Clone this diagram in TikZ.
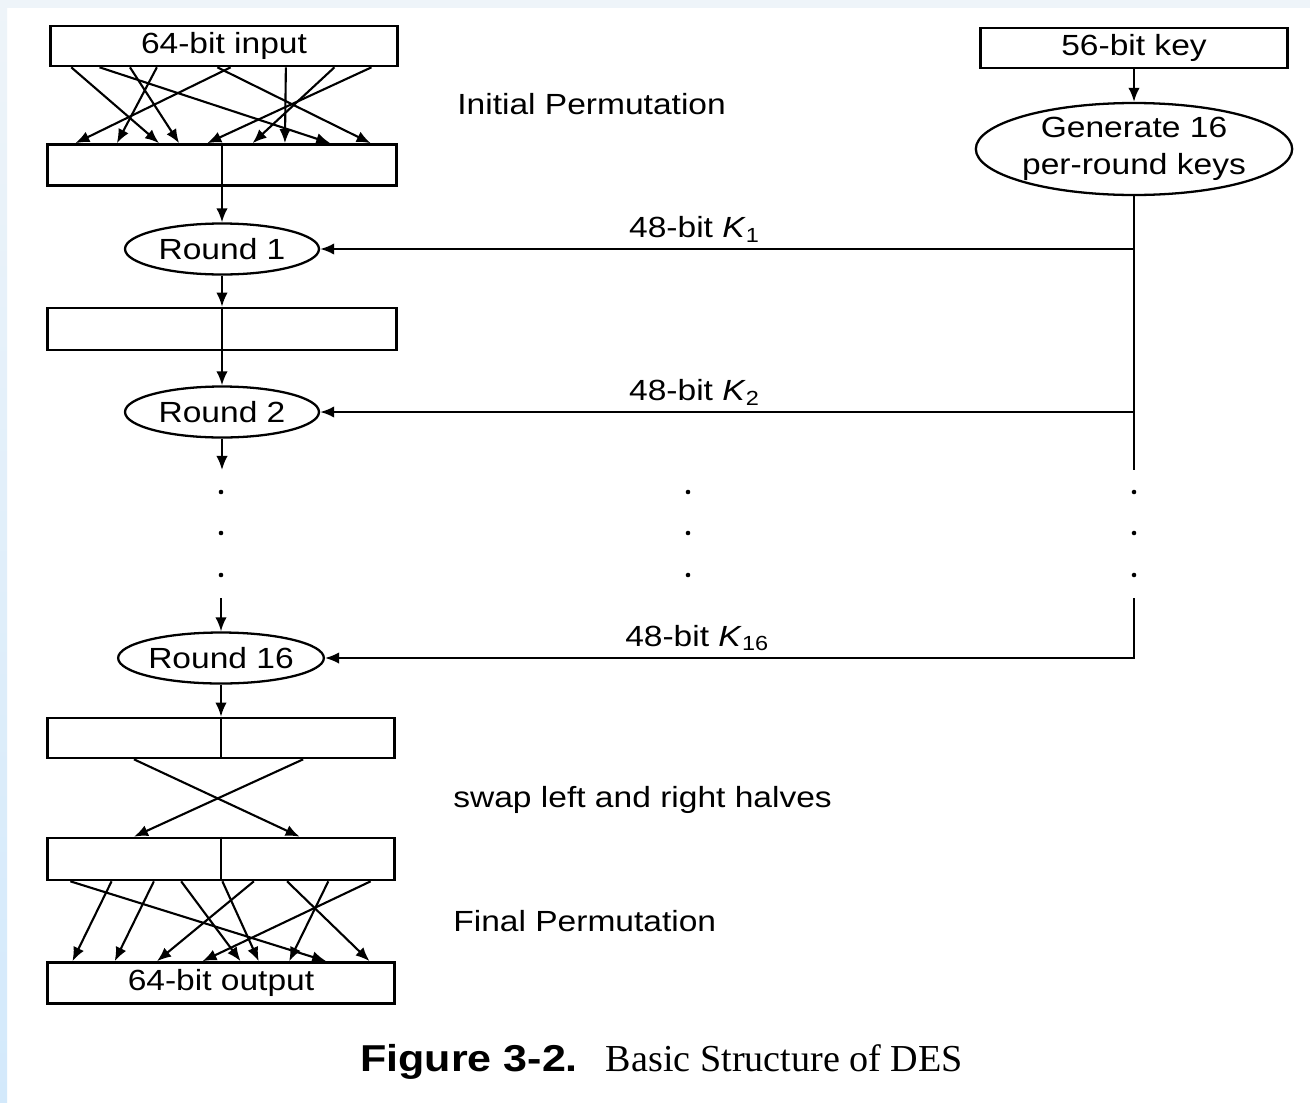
\documentclass[tikz,border=0pt]{standalone}
\usepackage{fontspec}
\setmainfont{Liberation Sans}[FakeStretch=1.15]
\newfontfamily\capserif{Liberation Serif}
\usetikzlibrary{arrows.meta,shapes.geometric,calc}
\definecolor{topstrip}{HTML}{EEF4F9}
\definecolor{sidestrip}{HTML}{D3E9FB}
\tikzset{
  blk/.style   = {rectangle, draw, line width=1.5pt, minimum width=6.94cm,
                  minimum height=0.8cm, inner sep=0pt},
  rnd/.style   = {ellipse, draw, line width=1.3pt, minimum width=3.88cm,
                  minimum height=1.02cm, inner sep=0pt},
  flow/.style  = {-{Latex[length=8pt,width=6.5pt]}, line width=1.2pt},
  wire/.style  = {line width=1.2pt},
  dotm/.style  = {circle, fill, inner sep=0pt, minimum size=2.6pt},
  note/.style  = {anchor=west, inner sep=0pt},
}

\begin{document}
\begin{tikzpicture}[x=0.02cm, y=-0.02cm, font=\fontsize{16.6}{21}\selectfont]
    % frame
    \useasboundingbox (0,0) rectangle (1310,1102);
    \fill[white] (0,0) rectangle (1310,1102);
    \fill[topstrip] (0,0) rectangle (1310,8);
    \shade[top color=topstrip, bottom color=sidestrip] (0,0) rectangle (7,1102);

    % data path
    \node[blk] (inbox) at (224,46) {64-bit input};
    \node[blk, minimum width=6.98cm, minimum height=0.82cm] (ipbox) at (222,165) {};
    \node[rnd] (r1) at (222,249) {Round 1};
    \node[blk, minimum width=6.98cm, minimum height=0.84cm] (mbox) at (222,329) {};
    \node[rnd] (r2) at (222,412) {Round 2};
    \node[rnd] (r16) at (221,658) {Round 16};
    \node[blk] (abox) at (221,738) {};
    \node[blk, minimum height=0.84cm] (sbox) at (221,859) {};
    \node[blk, minimum height=0.82cm] (obox) at (221,983) {64-bit output};

    % key path
    \node[blk, minimum width=6.14cm] (keybox) at (1134,48) {56-bit key};
    \node[rnd, minimum width=6.32cm, minimum height=1.84cm, align=center]
         (gen) at (1134,149) {Generate 16\\per-round keys};
    \coordinate (k1) at (1134,249);
    \coordinate (k2) at (1134,412);
    \coordinate (kt) at (1134,470);
    \coordinate (kb) at (1134,598);
    \coordinate (k16) at (1134,658);
    \coordinate (lt) at (222,470);
    \coordinate (lb) at (221,598);

    % initial permutation
    \foreach \s/\t in {0.063/0.321, 0.144/0.808, 0.231/0.378, 0.308/0.201,
                       0.519/0.083, 0.481/0.923, 0.677/0.679, 0.816/0.587,
                       0.922/0.458}
      \draw[flow] ($(inbox.south west)!\s!(inbox.south east)$)
                  -- ($(ipbox.north west)!\t!(ipbox.north east)$);
    \node[note] (iplbl) at (457,104) {Initial Permutation};

    % rounds
    \draw[flow] (ipbox.north) -- (r1);
    \draw[flow] (r1) -- (mbox.north);
    \draw[flow] (mbox.north) -- (r2);
    \draw[flow] (r2) -- (lt);
    \draw[flow] (lb) -- (r16);
    \draw[flow] (r16) -- (abox.north);
    \draw[wire] (abox.north) -- (abox.south);
    \draw[wire] (sbox.north) -- (sbox.south);

    % keys
    \draw[flow] (keybox) -- (gen);
    \draw[wire] (gen) -- (kt);
    \draw[flow] (k1) -- node[pos=0.54, above=0pt] (lk1) {48-bit \textit{K}\textsubscript{1}} (r1);
    \draw[flow] (k2) -- node[pos=0.54, above=0pt] (lk2) {48-bit \textit{K}\textsubscript{2}} (r2);
    \draw[flow] (kb) -- (k16) -- node[pos=0.54, above=0pt] (lk16) {48-bit \textit{K}\textsubscript{16}} (r16);

    % dots
    \foreach \yy [count=\i] in {492,533,575} {
      \node[dotm] (ld\i) at (221,\yy) {};
      \node[dotm] (md\i) at (688,\yy) {};
      \node[dotm] (rd\i) at (1134,\yy) {};
    }

    % swap
    \draw[flow] ($(abox.south west)!0.251!(abox.south east)$)
                -- ($(sbox.north west)!0.725!(sbox.north east)$);
    \draw[flow] ($(abox.south west)!0.735!(abox.south east)$)
                -- ($(sbox.north west)!0.251!(sbox.north east)$);
    \node[note] (swlbl) at (453,800) {swap left and right halves};

    % final permutation
    \foreach \s/\t in {0.069/0.801, 0.187/0.075, 0.308/0.196, 0.386/0.556,
                       0.504/0.608, 0.594/0.317, 0.689/0.925, 0.807/0.695,
                       0.928/0.447}
      \draw[flow] ($(sbox.south west)!\s!(sbox.south east)$)
                  -- ($(obox.north west)!\t!(obox.north east)$);
    \node[note] (fplbl) at (453,921) {Final Permutation};

    % caption
    \node[anchor=base west, inner sep=0pt] (cap) at (360,1071)
      {{\bfseries\fontsize{21.3}{24}\selectfont Figure 3-2.}\hspace{0.56cm}{\capserif\fontsize{21.7}{24}\selectfont Basic Structure of DES}};
\end{tikzpicture}
\end{document}
